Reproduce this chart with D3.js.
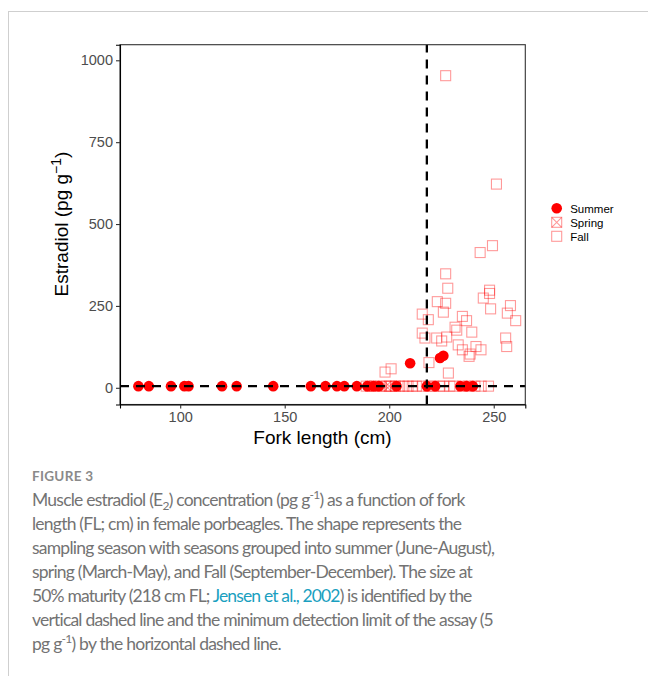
<!DOCTYPE html>
<html><head><meta charset="utf-8">
<script src="https://cdn.jsdelivr.net/npm/d3@7"></script>
<style>body{margin:0;background:#fff}svg{display:block}</style>
</head><body><svg id="c" width="648" height="676"></svg>
<script>
// ---------- data ----------
const xTicks = [100, 150, 200, 250];
const yTicks = [0, 250, 500, 750, 1000];
const maturityFL = 218;
const detectionLimit = 5;

const summerFL = [80, 85, 95.6, 102, 104, 120, 127, 144.5, 162.5, 169.5, 175, 178.5, 184.5, 189.5, 192.5, 195, 203.5, 218, 222, 234, 237, 240, 210, 224.3, 225.9];
const summerE2 = [5, 5, 5, 5, 5, 5, 5, 5, 5, 5, 5, 5, 5, 5, 5, 5, 5, 5, 5, 5, 5, 5, 75, 91, 98];

const springFL = [198.5, 200];
const springE2 = [5, 5];

const fallFL = [189, 191, 193, 196, 201, 203, 205, 207, 209, 211, 213, 216, 219, 221, 224, 226, 229, 231, 235, 238, 241, 244, 247.5,
  227, 251.3, 249.4, 243.5, 227, 228, 223, 227, 215.8, 225.9, 218.7, 231.5, 232.3, 215.8, 217.1, 222.7, 225.1, 227.5,
  219, 228.3, 200.9, 198, 248, 248, 245, 248.5, 258, 256.5, 260.5, 235, 237, 239.5, 255.7, 256.2, 233, 235, 241.5, 243.9, 238.7, 238.2];
const fallE2 = [5, 5, 5, 5, 5, 5, 5, 5, 5, 5, 5, 5, 5, 5, 5, 5, 5, 5, 5, 5, 5, 5, 5,
  953, 622, 434, 413, 348, 304, 263, 258, 225, 231, 208, 185, 176, 167, 152, 152, 143, 155,
  77, 45, 58, 48, 298, 288, 274, 241, 251, 228, 205, 218, 205, 170, 152, 126, 131, 116, 126, 116, 103, 96];

const seasons = ["Summer", "Spring", "Fall"];

const captionLines = [
  [["Muscle estradiol (E"], ["2", "sub"], [") concentration (pg g"], ["-1", "sup"], [") as a function of fork"]],
  [["length (FL; cm) in female porbeagles. The shape represents the"]],
  [["sampling season with seasons grouped into summer (June-August),"]],
  [["spring (March-May), and Fall (September-December). The size at"]],
  [["50% maturity (218 cm FL; "], ["Jensen et al., 2002", "link"], [") is identified by the"]],
  [["vertical dashed line and the minimum detection limit of the assay (5"]],
  [["pg g"], ["-1", "sup"], [") by the horizontal dashed line."]]
];

// ---------- drawing ----------
const svg = d3.select("#c");
const red = "#ff0000";

// page frame
svg.append("line").attr("x1", 8).attr("x2", 648).attr("y1", 11.5).attr("y2", 11.5).attr("stroke", "#cfcfcf");
svg.append("line").attr("x1", 8.5).attr("x2", 8.5).attr("y1", 11).attr("y2", 676).attr("stroke", "#cfcfcf");

const x = d3.scaleLinear().domain([71.2, 265.1]).range([120, 525.3]);
const y = d3.scaleLinear().domain([-51, 1047.6]).range([404.5, 44.7]);

const plot = svg.append("g");

// points
const fall = fallFL.map((v, i) => ({ x: v, y: fallE2[i] }));
const spring = springFL.map((v, i) => ({ x: v, y: springE2[i] }));
const summer = summerFL.map((v, i) => ({ x: v, y: summerE2[i] }));
const s = 5;
plot.append("g").selectAll("rect").data(fall).join("rect")
  .attr("x", d => x(d.x) - s).attr("y", d => y(d.y) - s)
  .attr("width", 2 * s).attr("height", 2 * s)
  .attr("fill", "none").attr("stroke", red).attr("stroke-opacity", 0.4).attr("stroke-width", 1.1);
const sp = plot.append("g").selectAll("g").data(spring).join("g")
  .attr("transform", d => `translate(${x(d.x)},${y(d.y)})`)
  .attr("stroke", red).attr("stroke-opacity", 0.4).attr("fill", "none").attr("stroke-width", 1.1);
sp.append("rect").attr("x", -s).attr("y", -s).attr("width", 2 * s).attr("height", 2 * s);
sp.append("path").attr("d", `M${-s},${-s}L${s},${s}M${-s},${s}L${s},${-s}`);
plot.append("g").selectAll("circle").data(summer).join("circle")
  .attr("cx", d => x(d.x)).attr("cy", d => y(d.y)).attr("r", 5.3).attr("fill", red);

// dashed reference lines
plot.append("line").attr("x1", x.range()[0]).attr("x2", x.range()[1])
  .attr("y1", y(detectionLimit)).attr("y2", y(detectionLimit))
  .attr("stroke", "#000").attr("stroke-width", 2.3).attr("stroke-dasharray", "9,7");
plot.append("line").attr("x1", x(maturityFL)).attr("x2", x(maturityFL))
  .attr("y1", y.range()[0]).attr("y2", y.range()[1])
  .attr("stroke", "#000").attr("stroke-width", 2.3).attr("stroke-dasharray", "9,7");

// panel border
plot.append("rect").attr("x", 120).attr("y", 44.7).attr("width", 525.3 - 120).attr("height", 404.5 - 44.7)
  .attr("fill", "none").attr("stroke", "#333").attr("stroke-width", 1.1);

// axes
const fontAx = "'Liberation Sans', Arial, sans-serif";
const xAxis = svg.append("g").attr("transform", "translate(0,404.5)")
  .call(d3.axisBottom(x).tickValues(xTicks).tickFormat(d3.format("d")).tickSize(4).tickPadding(3));
const yAxis = svg.append("g").attr("transform", "translate(120,0)")
  .call(d3.axisLeft(y).tickValues(yTicks).tickFormat(d3.format("d")).tickSize(4).tickPadding(3));
[xAxis, yAxis].forEach(a => {
  a.attr("font-size", null).attr("font-family", null);
  a.select(".domain").attr("stroke", "#000").attr("stroke-width", 1.1);
  a.selectAll(".tick line").attr("stroke", "#333").attr("stroke-width", 1.1);
  a.selectAll(".tick text").attr("fill", "#4d4d4d").style("font-family", fontAx).style("font-size", "14.5px");
});

svg.append("text").attr("x", 322.5).attr("y", 444).attr("text-anchor", "middle")
  .style("font-family", fontAx).style("font-size", "19px").attr("fill", "#000").text("Fork length (cm)");
const yt = svg.append("text").attr("transform", "translate(68,224) rotate(-90)").attr("text-anchor", "middle")
  .style("font-family", fontAx).style("font-size", "19px").attr("fill", "#000");
yt.append("tspan").text("Estradiol (pg g");
yt.append("tspan").attr("dy", -7.5).style("font-size", "14px").text("\u22121");
yt.append("tspan").attr("dy", 7.5).text(")");

// legend
const lg = svg.append("g").attr("transform", "translate(556.7,208.3)");
seasons.forEach((name, i) => {
  const g = lg.append("g").attr("transform", `translate(0,${i * 14})`);
  if (name === "Summer") g.append("circle").attr("r", 5.3).attr("fill", red);
  else {
    const k = g.append("g").attr("stroke", red).attr("stroke-opacity", 0.4).attr("fill", "none").attr("stroke-width", 1.1);
    k.append("rect").attr("x", -s).attr("y", -s).attr("width", 2 * s).attr("height", 2 * s);
    if (name === "Spring") k.append("path").attr("d", `M${-s},${-s}L${s},${s}M${-s},${s}L${s},${-s}`);
  }
  g.append("text").attr("x", 13.5).attr("y", 4.2).style("font-family", fontAx).style("font-size", "11.5px")
    .attr("fill", "#000").text(name);
});

// caption
const capFont = "Lato, 'Open Sans', sans-serif";
svg.append("text").attr("x", 32).attr("y", 480.5).style("font-family", capFont).style("font-size", "13.5px")
  .style("font-weight", 700).attr("fill", "#8a8a8a").style("letter-spacing", "0.3px").text("FIGURE 3");
const targets = [434, 430, 463, 440.7, 440.3, 462.3, 249.7];
const cap = svg.append("g");
const capTexts = [];
captionLines.forEach((line, i) => {
  const t = cap.append("text").attr("x", 32).attr("y", 505.5 + i * 24)
    .style("font-family", capFont).style("font-size", "17.5px").attr("fill", "#737373");
  line.forEach(([str, kind], k) => {
    const ts = t.append("tspan").text(str);
    const prev = k > 0 ? line[k - 1][1] : null;
    let dy = 0;
    if (prev === "sub") dy -= 4;
    if (prev === "sup") dy += 7;
    if (kind === "sub") { dy += 4; ts.style("font-size", "12px"); }
    if (kind === "sup") { dy -= 7; ts.style("font-size", "12px"); }
    if (kind === "link") ts.attr("fill", "#1a9fc0");
    if (dy) ts.attr("dy", dy);
  });
  capTexts.push(t);
});
// per-line letter spacing to match the reference line widths
capTexts.forEach((t, i) => {
  const w = t.node().getComputedTextLength();
  const n = t.text().length;
  const ls = (targets[i] - w) / Math.max(1, n - 1);
  t.style("letter-spacing", ls.toFixed(3) + "px");
});
</script></body></html>
